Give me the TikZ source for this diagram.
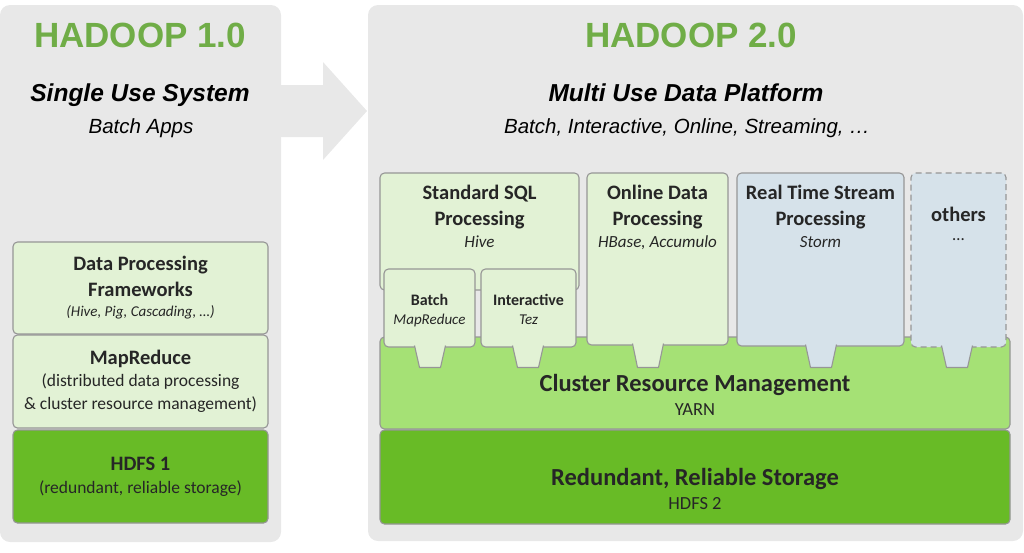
\documentclass[tikz,border=0pt]{standalone}
\usepackage{fontspec}
\setmainfont{Carlito}
\newfontfamily\headfont{Liberation Sans}
\usepackage{xcolor}
\usepackage{tikz}
\usetikzlibrary{positioning}

\definecolor{panelgray}{RGB}{232,232,232}
\definecolor{hadoopgreen}{RGB}{112,173,71}
\definecolor{appgreen}{RGB}{226,242,213}
\definecolor{yarngreen}{RGB}{165,225,117}
\definecolor{hdfsgreen}{RGB}{104,187,38}
\definecolor{streamblue}{RGB}{214,226,234}
\definecolor{edgegray}{RGB}{150,150,150}
\definecolor{inkgray}{RGB}{38,38,38}

\begin{document}
\begin{tikzpicture}[x=1pt, y=-1pt,
    panel/.style={fill=panelgray, rounded corners=10pt},
    layer/.style={draw=edgegray, line width=1.1pt, rounded corners=4.5pt, inner sep=0pt, outer sep=0pt},
    appbox/.style={layer, fill=appgreen},
    streambox/.style={layer, fill=streamblue},
    tab/.style={draw=edgegray, line width=1.1pt, line join=round},
    headline/.style={inner sep=0pt, anchor=base, text=hadoopgreen, font=\headfont\bfseries\fontsize{35}{41}\selectfont},
    usecase/.style={inner sep=0pt, anchor=base, font=\headfont\bfseries\itshape\fontsize{24.5}{29}\selectfont},
    usesub/.style={inner sep=0pt, anchor=base, font=\headfont\itshape\fontsize{20.5}{25}\selectfont},
    boxtext/.style={inner sep=0pt, align=center, text=inkgray, font=\fontsize{20.5}{26}\selectfont},
  ]
        \useasboundingbox (0,0) rectangle (1024,552);

        % the two versions and the arrow between them
        \fill[panel] (0,5) rectangle (281,542);
        \fill[panel] (368,5) rectangle (1023,541);
        \fill[panelgray] (280,85) -- (323,85) -- (323,62) -- (367,111) -- (323,160) -- (323,137) -- (280,137) -- cycle;

        \node[headline] (v1title) at (140,47) {HADOOP 1.0};
        \node[usecase] (v1use) at (140,101) {Single Use System};
        \node[usesub] (v1apps) at (141,133) {Batch Apps};
        \node[headline] (v2title) at (691,47) {HADOOP 2.0};
        \node[usecase] (v2use) at (686,101) {Multi Use Data Platform};
        \node[usesub] (v2apps) at (687,133) {Batch, Interactive, Online, Streaming, …};

        % hadoop 1.0 stack
        \node[appbox, boxtext, minimum width=255pt, minimum height=92pt] (frameworks) at (140.5,288)
            {\textbf{Data Processing}\\\textbf{Frameworks}\\[-6pt]{\fontsize{15}{18}\selectfont\itshape (Hive, Pig, Cascading, …)}};
        \node[appbox, boxtext, minimum width=255pt, minimum height=93pt] (mapreduce) at (140.5,381.5)
            {\textbf{MapReduce}\\[-3.5pt]{\fontsize{17.5}{21}\selectfont (distributed data processing}\\[-3pt]{\fontsize{17.5}{21}\selectfont \& cluster resource management)}};
        \node[layer, boxtext, fill=hdfsgreen, minimum width=255pt, minimum height=93pt] (hdfsone) at (140.5,476.5)
            {\textbf{HDFS 1}\\[-3pt]{\fontsize{17.5}{21}\selectfont (redundant, reliable storage)}};

        % hadoop 2.0 stack
        \node[layer, fill=yarngreen, minimum width=630pt, minimum height=92pt] (yarn) at (695,383) {};
        \node[layer, fill=hdfsgreen, minimum width=630pt, minimum height=94pt] (storage) at (695,477) {};
        \node[boxtext, below=37pt of yarn.north] (yarntext)
            {{\fontsize{24.5}{29}\selectfont\bfseries Cluster Resource Management}\\[-2pt]{\fontsize{18.5}{22}\selectfont YARN}};
        \node[boxtext, below=38.5pt of storage.north] (storagetext)
            {{\fontsize{24.5}{29}\selectfont\bfseries Redundant, Reliable Storage}\\[-2pt]{\fontsize{18.5}{22}\selectfont HDFS 2}};

        \node[appbox, minimum width=199pt, minimum height=117pt] (sql) at (479.5,231.5) {};
        \node[boxtext, below=12pt of sql.north] (sqltext)
            {\textbf{Standard SQL}\\\textbf{Processing}\\[-4pt]{\fontsize{17}{20}\selectfont\itshape Hive}};
        \node[appbox, minimum width=91pt, minimum height=78pt] (batch) at (429.5,308) {};
        \node[boxtext, font=\fontsize{16}{19}\selectfont, below=25pt of batch.north] (batchtext)
            {\textbf{Batch}\\{\fontsize{15}{18}\selectfont\itshape MapReduce}};
        \node[appbox, minimum width=95pt, minimum height=78pt] (interactive) at (528.5,308) {};
        \node[boxtext, font=\fontsize{16}{19}\selectfont, below=25pt of interactive.north] (interactivetext)
            {\textbf{Interactive}\\{\fontsize{15}{18}\selectfont\itshape Tez}};
        \node[appbox, minimum width=141pt, minimum height=172pt] (online) at (657.5,259) {};
        \node[boxtext, below=12pt of online.north] (onlinetext)
            {\textbf{Online Data}\\\textbf{Processing}\\[-4pt]{\fontsize{17}{20}\selectfont\itshape HBase, Accumulo}};
        \node[streambox, minimum width=167pt, minimum height=173pt] (stream) at (820.5,259.5) {};
        \node[boxtext, below=12pt of stream.north] (streamtext)
            {\textbf{Real Time Stream}\\\textbf{Processing}\\[-4pt]{\fontsize{17}{20}\selectfont\itshape Storm}};
        \node[streambox, dashed, dash pattern=on 6pt off 4pt, minimum width=95pt, minimum height=174pt] (others) at (958.5,260) {};
        \node[boxtext, below=34pt of others.north] (otherstext)
            {\textbf{others}\\[-7pt]{\fontsize{17}{20}\selectfont …}};

        % tabs that plug the apps into yarn
        \foreach \cx/\bot/\tabfill in {430/347/appgreen, 528/347/appgreen, 648/345/appgreen, 821/346/streamblue, 957/347/streamblue}
            \filldraw[tab, fill=\tabfill] (\cx-15.5,\bot-1.5) -- (\cx-10.5,367.5) -- (\cx+10.5,367.5) -- (\cx+15.5,\bot-1.5);
    \end{tikzpicture}
\end{document}
